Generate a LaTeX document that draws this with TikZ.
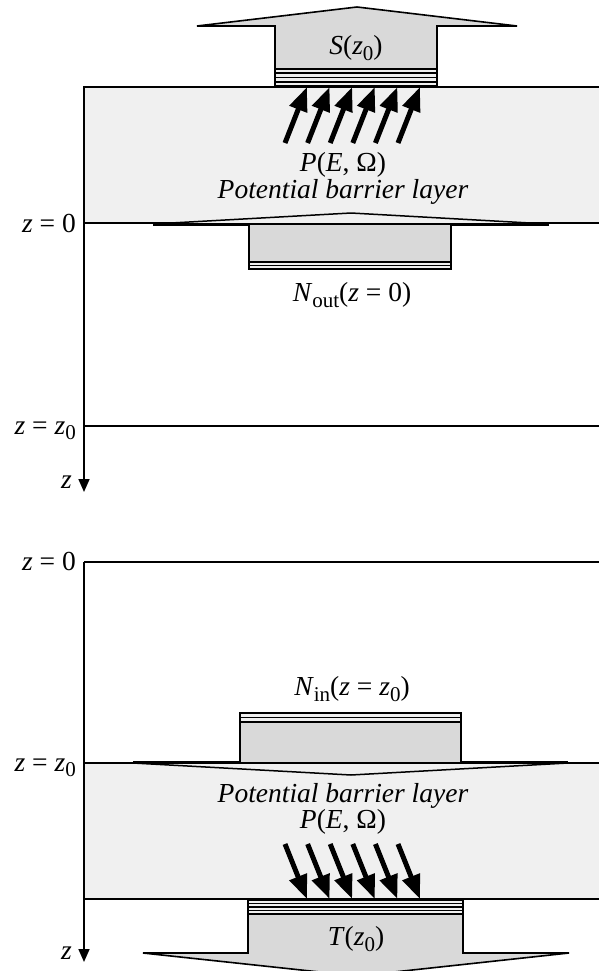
\documentclass[tikz,border=0pt]{standalone}
\usepackage{fontspec}
\setmainfont{Liberation Serif}
\usetikzlibrary{arrows.meta}
\newcommand{\lowidx}[1]{\raisebox{-0.45ex}{\fontsize{21}{21}\selectfont #1}}

\begin{document}
\begin{tikzpicture}[
    x=1pt, y=-1pt,
    font=\fontsize{27.5}{31}\selectfont,
    layer/.style={draw, line width=1.5pt, fill=gray!12},
    flux/.style={draw, line width=1.6pt, fill=gray!30, line join=miter},
    strips/.style={draw, line width=1.8pt, fill=gray!12},
    ray/.style={line width=5pt, -{Triangle[length=24pt,width=18pt]}},
    axis/.style={line width=1.6pt, -{Triangle[length=13pt,width=11pt]}},
    lbl/.style={anchor=base east, inner sep=0pt}
]
\useasboundingbox (0,0) rectangle (599,971);

% ---------------- upper picture (reflection) ----------------
% barrier layer
\path[layer] (84,87) rectangle (620,223);
\draw[axis] (84,87) -- (84,492);
\draw[line width=1.5pt] (84,426) -- (620,426);

% outgoing flux S(z0)
\path[flux] (197,26) -- (357,7) -- (517,26) -- (437,26) -- (437,69)
  -- (275,69) -- (275,26) -- cycle;
\path[strips] (275,69) rectangle (437,86);
\foreach \y in {73,77.5,82}
  \draw[line width=1.8pt] (275,\y) -- (437,\y);

% emitted electrons
\foreach \i in {0,...,5}
  \draw[ray] ({285+22.6*\i},143) -- ({307+22.6*\i},87);

% incident flux N_out(z=0)
\path[draw, line width=1.5pt, fill=gray!12] (153,224) -- (351,213) -- (548,224);
\draw[line width=2.8pt] (153,224.5) -- (549,224.5);
\path[flux] (249,224) rectangle (451,262);
\path[strips] (249,262) rectangle (451,269);
\draw[line width=1.8pt] (249,265.5) -- (451,265.5);

\node (Stop) at (356,48) {\textit{S}(\textit{z}\lowidx{0})};
\node (Ptop) at (343,165) {\textit{P}(\textit{E}, Ω)};
\node (Ltop) at (343,192) {\textit{Potential barrier layer}};
\node (Nout) at (352,295) {\textit{N}\lowidx{out}(\textit{z} = 0)};

\node[lbl] (zeroA) at (76,232) {\textit{z} = 0};
\node[lbl] (zzA) at (76,434) {\textit{z} = \textit{z}\lowidx{0}};
\node[lbl] (zA) at (72,488) {\textit{z}};

% ---------------- lower picture (transmission) ----------------
\draw[line width=1.5pt] (620,562) -- (84,562);
\draw[axis] (84,562) -- (84,962);

% barrier layer
\path[layer] (84,763) rectangle (620,899);

% incident flux N_in(z=z0)
\path[draw, line width=1.5pt, fill=gray!12] (133,763) -- (351,775) -- (568,763);
\draw[line width=2.8pt] (133,762.5) -- (568,762.5);
\path[flux] (240,722) rectangle (461,763);
\path[strips] (240,713) rectangle (461,722);
\draw[line width=1.8pt] (240,717.5) -- (461,717.5);

% transmitted electrons
\foreach \i in {0,...,5}
  \draw[ray] ({285+22.6*\i},844) -- ({307+22.6*\i},899);

% transmitted flux T(z0)
\path[strips] (248,900) rectangle (463,914);
\foreach \y in {903.5,907,910.5}
  \draw[line width=1.8pt] (248,\y) -- (463,\y);
\path[flux] (248,914) -- (463,914) -- (463,953) -- (569,953) -- (357,976)
  -- (143,953) -- (248,953) -- cycle;

\node (Nin) at (352,689) {\textit{N}\lowidx{in}(\textit{z} = \textit{z}\lowidx{0})};
\node (Lbot) at (343,796) {\textit{Potential barrier layer}};
\node (Pbot) at (343,822) {\textit{P}(\textit{E}, Ω)};
\node (Tbot) at (356,939) {\textit{T}(\textit{z}\lowidx{0})};

\node[lbl] (zeroB) at (76,570) {\textit{z} = 0};
\node[lbl] (zzB) at (76,771) {\textit{z} = \textit{z}\lowidx{0}};
\node[lbl] (zB) at (72,959) {\textit{z}};
\end{tikzpicture}
\end{document}
